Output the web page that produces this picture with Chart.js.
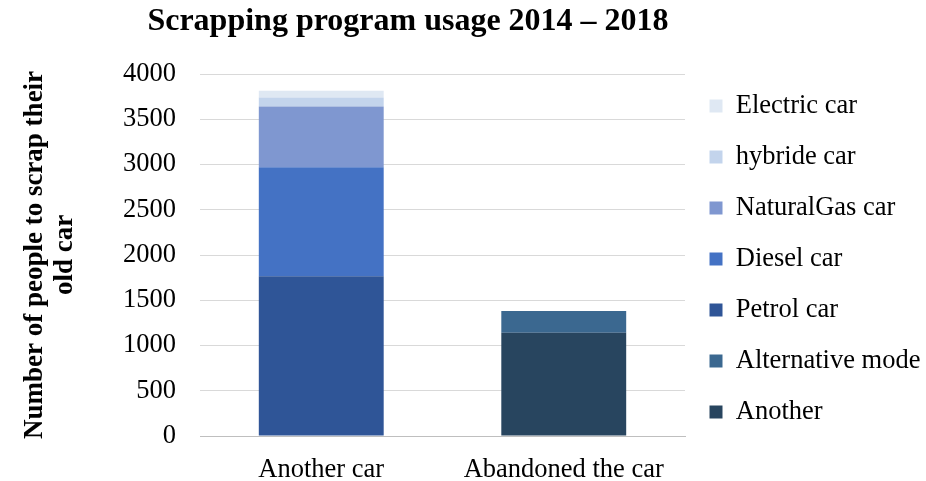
<!DOCTYPE html>
<html>
<head>
<meta charset="utf-8">
<script src="https://cdn.jsdelivr.net/npm/chart.js@4/dist/chart.umd.min.js"></script>
<style>
  html, body { margin: 0; padding: 0; background: #fff; }
  #wrap { width: 926px; height: 481px; }
</style>
</head>
<body>
<div id="wrap"><canvas id="scrapChart" width="926" height="481"></canvas></div>
<script>
// Data
const categories = ['Another car', 'Abandoned the car'];
const seriesNames = ['Another', 'Alternative mode', 'Petrol car', 'Diesel car', 'NaturalGas car', 'hybride car', 'Electric car'];
const another = [0, 1140];
const alternativeMode = [0, 240];
const petrolCar = [1765, 0];
const dieselCar = [1205, 0];
const naturalGasCar = [670, 0];
const hybrideCar = [100, 0];
const electricCar = [75, 0];
const yTicks = [0, 500, 1000, 1500, 2000, 2500, 3000, 3500, 4000];

const seriesValues = [another, alternativeMode, petrolCar, dieselCar, naturalGasCar, hybrideCar, electricCar];
const colors = ['#28455f', '#3b6890', '#2f5597', '#4472c4', '#7f97d0', '#c3d4ec', '#dfe8f3'];

const serif = '"Liberation Serif", "Times New Roman", serif';

const layoutPlugin = {
  id: 'excelLayout',
  beforeLayout(chart) {
    // legend: one column, fixed width so the plot ends where it does in the original
    const lg = chart.legend;
    if (lg && !lg._fixedFit) {
      const fit = lg.fit.bind(lg);
      lg.fit = function () {
        this.maxHeight = Math.max(this.maxHeight, 420);
        fit();
        this.width = 241;
      };
      lg._fixedFit = true;
    }
  },
  afterLayout(chart) {
    // give the legend enough height for all 7 entries in one column
    const lg = chart.legend;
    lg.top = 58;
    lg.bottom = 460;
    lg.height = lg.bottom - lg.top;
  },
  afterDraw(chart) {
    // chart title, a bit left of canvas centre like the original
    const c = chart.ctx;
    c.save();
    c.font = 'bold 32px ' + serif;
    c.fillStyle = '#000';
    c.textAlign = 'center';
    c.textBaseline = 'middle';
    c.fillText('Scrapping program usage 2014 – 2018', 408, 22);
    c.restore();
  }
};

const ctx = document.getElementById('scrapChart').getContext('2d');

new Chart(ctx, {
  type: 'bar',
  data: {
    labels: categories,
    datasets: seriesNames.map((name, i) => ({
      label: name,
      data: seriesValues[i],
      backgroundColor: colors[i],
      categoryPercentage: 0.515,
      barPercentage: 1,
    })),
  },
  options: {
    responsive: false,
    animation: false,
    layout: { padding: { left: 20, top: 74, right: 0, bottom: 0 } },
    plugins: {
      title: { display: false },
      tooltip: { enabled: false },
      legend: {
        position: 'right',
        fullSize: false,
        reverse: true,
        labels: {
          color: '#000',
          font: { family: serif, size: 26.5 },
          boxWidth: 13,
          boxHeight: 13,
          padding: 24.5,
        },
      },
    },
    scales: {
      x: {
        stacked: true,
        grid: { display: false },
        border: { color: '#bfbfbf' },
        ticks: { color: '#000', font: { family: serif, size: 26.5 }, padding: 10 },
        afterFit: axis => { axis.height = 45; },
      },
      y: {
        stacked: true,
        min: 0,
        max: 4000,
        border: { display: false },
        grid: {
          drawTicks: false,
          color: c => (c.tick && c.tick.value === 0 ? '#bfbfbf' : '#d9d9d9'),
        },
        afterBuildTicks: axis => { axis.ticks = yTicks.map(v => ({ value: v })); },
        ticks: {
          color: '#000',
          font: { family: serif, size: 26.5 },
          padding: 24,
          callback: v => String(v),
        },
        title: {
          display: true,
          text: ['Number of people to scrap their', 'old car'],
          color: '#000',
          font: { family: serif, size: 27, weight: 'bold', lineHeight: 1.12 },
          padding: 0,
        },
        afterFit: axis => { axis.width = 180; },
      },
    },
  },
  plugins: [layoutPlugin],
});
</script>
</body>
</html>
